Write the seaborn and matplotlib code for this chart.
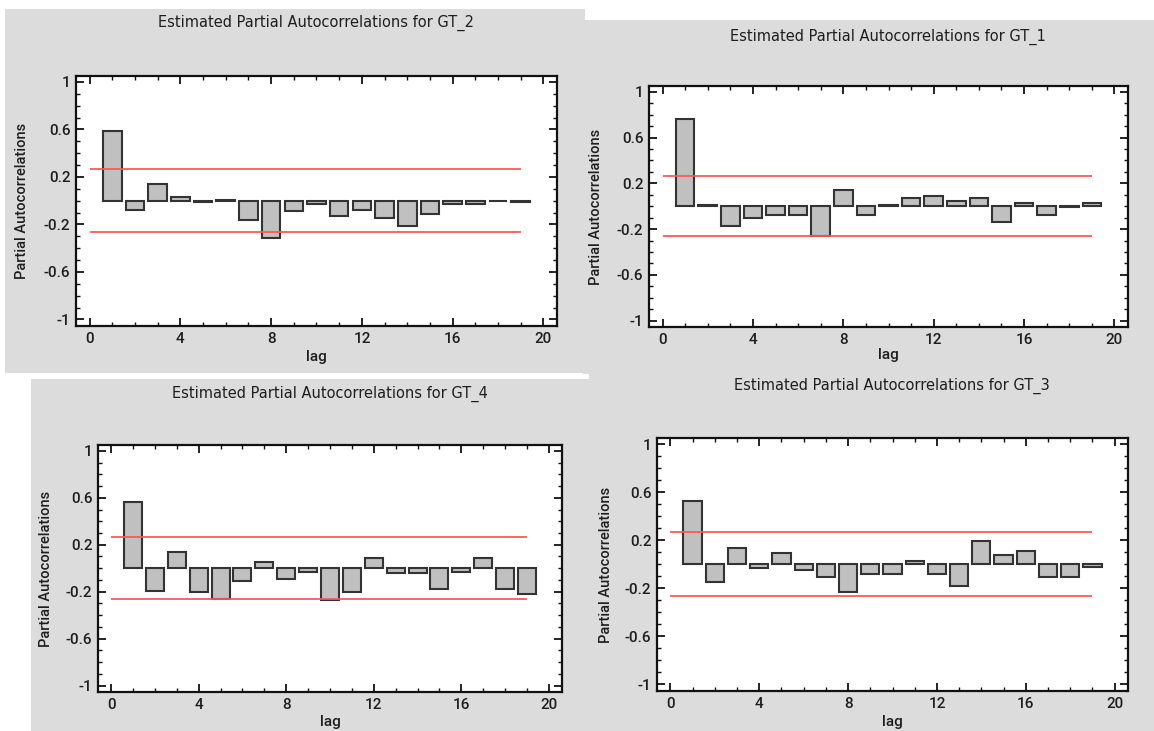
import numpy as np
import pandas as pd
import matplotlib
matplotlib.use("Agg")
import matplotlib.pyplot as plt
from matplotlib.patches import Rectangle
from matplotlib.ticker import FixedLocator, MultipleLocator, FixedFormatter
import seaborn as sns

sns.set_theme(style="white")
plt.rcParams["font.family"] = ["Roboto", "DejaVu Sans"]

# ---- data ----
lags = list(range(1, 20))
gt2 = [0.59, -0.08, 0.14, 0.03, -0.01, 0.003, -0.16, -0.31, -0.09, -0.025,
       -0.13, -0.08, -0.145, -0.215, -0.11, -0.025, -0.03, -0.005, -0.01]
gt1 = [0.76, 0.01, -0.175, -0.105, -0.08, -0.08, -0.26, 0.14, -0.08, 0.01,
       0.07, 0.085, 0.045, 0.07, -0.14, 0.03, -0.08, -0.005, 0.03]
gt4 = [0.565, -0.19, 0.135, -0.205, -0.26, -0.11, 0.055, -0.095, -0.03, -0.275,
       -0.205, 0.085, -0.045, -0.045, -0.175, -0.03, 0.085, -0.175, -0.22]
gt3 = [0.525, -0.15, 0.135, -0.03, 0.095, -0.045, -0.11, -0.23, -0.08, -0.08,
       0.03, -0.08, -0.18, 0.19, 0.08, 0.11, -0.11, -0.11, -0.025]
limits = {"GT_2": 0.267, "GT_1": 0.262, "GT_4": 0.263, "GT_3": 0.265}
titles = ["GT_2", "GT_1", "GT_4", "GT_3"]
series = {"GT_2": gt2, "GT_1": gt1, "GT_4": gt4, "GT_3": gt3}
ytick_vals = [1, 0.6, 0.2, -0.2, -0.6, -1]
ytick_labels = ["1", "0.6", "0.2", "-0.2", "-0.6", "-1"]
xtick_vals = [0, 4, 8, 12, 16, 20]
xtick_labels = ["0", "4", "8", "12", "16", "20"]

W, H = 1154, 731
fig = plt.figure(figsize=(W / 100, H / 100), dpi=100)
fig.patch.set_facecolor("white")

GRAY = "#dcdcdc"
TXT = "#1e1e1e"

# layout in pixels: panel rect (x0, y0, x1, y1), axes (left, top, right, bottom),
# title (cx, cy), ylabel x, xlabel y
layout = {
    "GT_1": dict(panel=(583, 20, 1154, 374), ax=(649, 86, 1128, 327), title=(888, 37), ylab=596, xlab=355),
    "GT_2": dict(panel=(5, 9, 585, 373), ax=(76, 76, 557, 326), title=(316, 23), ylab=22, xlab=357),
    "GT_3": dict(panel=(589, 369, 1154, 731), ax=(657, 438, 1128, 691), title=(892, 386), ylab=606, xlab=722),
    "GT_4": dict(panel=(31, 379, 590, 731), ax=(98, 445, 562, 692), title=(330, 394), ylab=46, xlab=722),
}

def fx(x):
    return x / W

def fy(y):
    return 1 - y / H

for i, name in enumerate(["GT_1", "GT_2", "GT_3", "GT_4"]):
    L = layout[name]
    x0, y0, x1, y1 = L["panel"]
    fig.patches.append(Rectangle((fx(x0), fy(y1)), fx(x1) - fx(x0), fy(y0) - fy(y1),
                                 transform=fig.transFigure, facecolor=GRAY,
                                 edgecolor="none", zorder=-10 + i))

for name in titles:
    L = layout[name]
    l, t, r, b = L["ax"]
    ax = fig.add_axes([fx(l), fy(b), fx(r) - fx(l), fy(t) - fy(b)])
    ax.set_zorder(5)
    ax.set_facecolor("white")
    df = pd.DataFrame({"lag": lags, "pacf": series[name]})
    sns.barplot(data=df, x="lag", y="pacf", native_scale=True, width=0.82,
                color="#c0c0c0", saturation=1, edgecolor="#333333", linewidth=1.5,
                errorbar=None, ax=ax, zorder=2)
    lim = limits[name]
    ax.hlines([lim, -lim], 0, 19, colors="#ff5555", linewidth=1.4, alpha=0.9, zorder=3)
    ax.set_xlim(-0.6, 20.6)
    ax.set_ylim(-1.055, 1.05)
    ax.xaxis.set_major_locator(FixedLocator(xtick_vals))
    ax.xaxis.set_major_formatter(FixedFormatter(xtick_labels))
    ax.xaxis.set_minor_locator(MultipleLocator(1))
    ax.yaxis.set_major_locator(FixedLocator(ytick_vals))
    ax.yaxis.set_major_formatter(FixedFormatter(ytick_labels))
    ax.yaxis.set_minor_locator(MultipleLocator(0.1))
    ax.tick_params(which="both", direction="in", top=True, right=True,
                   bottom=True, left=True, colors="#111111", labelcolor=TXT)
    ax.tick_params(which="major", length=6, width=1.3, labelsize=11, pad=4)
    ax.tick_params(which="minor", length=3, width=1.0)
    for lab in ax.get_xticklabels() + ax.get_yticklabels():
        lab.set_fontweight("medium")
    for s in ax.spines.values():
        s.set_color("#111111")
        s.set_linewidth(1.6)
    ax.set_xlabel("")
    ax.set_ylabel("")
    fig.text(fx(L["ylab"]), fy((t + b) / 2), "Partial Autocorrelations", rotation=90,
             ha="center", va="center", fontsize=10.5, color=TXT, fontweight="medium")
    fig.text(fx((l + r) / 2), fy(L["xlab"]), "lag", ha="center", va="center",
             fontsize=11, color=TXT, fontweight="medium")
    tx, ty = L["title"]
    fig.text(fx(tx), fy(ty), f"Estimated Partial Autocorrelations for {name}",
             ha="center", va="center", fontsize=10.5, color=TXT,
             family=["DejaVu Sans"])

fig.savefig("out.png", dpi=100, facecolor="white")
